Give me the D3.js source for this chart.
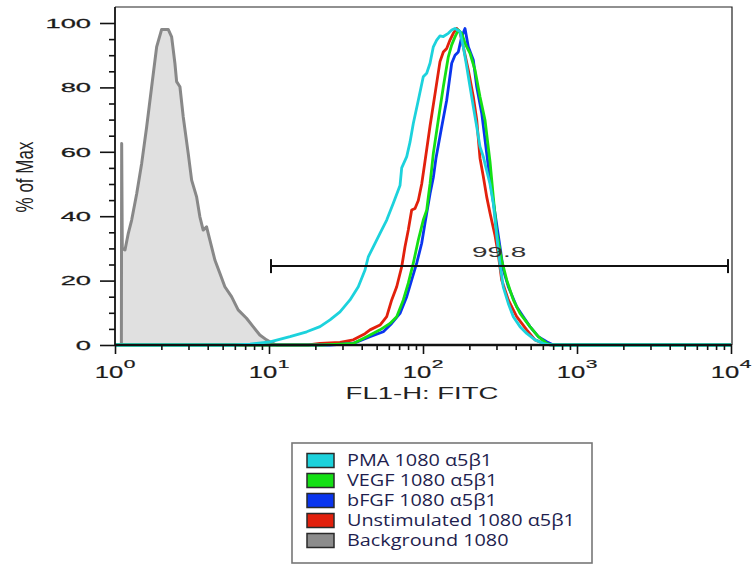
<!DOCTYPE html>
<html>
<head>
<meta charset="utf-8">
<script src="https://cdn.jsdelivr.net/npm/d3@7"></script>
<style>
  html, body { margin: 0; padding: 0; background: #fff; }
  svg { display: block; }
</style>
</head>
<body>
<svg id="chart" width="755" height="565"></svg>
<script>
// ---- Histogram data: [FL1-H fluorescence, % of Max] ----
const backgroundSeries = [
  [1.10, 0], [1.105, 62.6], [1.115, 30], [1.161, 29.5], [1.220, 34.7], [1.283, 38.8],
  [1.383, 47], [1.490, 56.4], [1.606, 67.8], [1.730, 80.2], [1.864, 92.6], [2.009, 98],
  [2.216, 98], [2.332, 95.7], [2.449, 87.5], [2.513, 81.8], [2.640, 80.2], [2.773, 70.9],
  [2.988, 59.5], [3.145, 51.2], [3.388, 46], [3.558, 39.8], [3.738, 35.7], [3.932, 36.7],
  [4.132, 32.6], [4.452, 26.4], [4.797, 22.3], [5.169, 18.1], [5.712, 15], [6.304, 10.9],
  [7.146, 8.3], [7.886, 5.7], [8.717, 3.1], [9.634, 1.6], [10.38, 0.7], [11.2, 0], [10000, 0]
];
const unstimulatedSeries = [
  [1, 0], [18, 0], [21.44, 0.5], [28.91, 0.8], [35.27, 1.6], [42.02, 3.5], [45.27, 4.7],
  [52.58, 6.2], [58.12, 8.8], [62.63, 14], [67.49, 18.1], [72.73, 24.3], [76.40, 30.5],
  [80.26, 35.7], [84.44, 41.9], [88.74, 42.4], [93.22, 44.9], [98.08, 50], [103.0, 57],
  [111.1, 68], [119.7, 78], [128.9, 88], [135.5, 91], [142.5, 92.1], [149.7, 94.7],
  [157.3, 96.8], [165.5, 98.3], [173.9, 97], [182.7, 92.6], [196.9, 85.4], [212.2, 77.1],
  [223.3, 69.9], [234.5, 58], [246.4, 52.3], [259.2, 46], [272.3, 41], [293.5, 34],
  [308.4, 28], [324.3, 20.2], [358.0, 14], [405.9, 8.8], [471.5, 4.7], [533.7, 1.6],
  [604.2, 0.5], [667.9, 0], [10000, 0]
];
const bfgfSeries = [
  [1, 0], [25, 0], [35.27, 0.5], [45.27, 2.6], [55.24, 4.1], [62.63, 6.7], [70.90, 9.8],
  [78.40, 15], [84.44, 20.2], [91.01, 25.4], [98.08, 31.6], [103.0, 37.8], [111.1, 47],
  [116.7, 52], [121.4, 58], [132.3, 67.8], [142.5, 76], [153.6, 87.5], [161.4, 90],
  [169.5, 91], [178.3, 95.7], [187.4, 98.3], [196.9, 92.6], [212.2, 88.5], [223.3, 80.2],
  [240.6, 72], [259.2, 59.5], [272.3, 51.2], [293.5, 40.9], [316.2, 30.5], [332.2, 23.3],
  [358.0, 18.1], [405.9, 11.9], [448.1, 8.8], [495.3, 5.7], [560.8, 2.6], [635.8, 1],
  [701.7, 0], [10000, 0]
];
const vegfSeries = [
  [1, 0], [22, 0], [28.91, 0.3], [35.27, 0.5], [43.10, 2.6], [52.58, 4.7], [61.05, 6.7],
  [67.49, 8.8], [74.50, 14], [80.26, 19.2], [86.50, 25.4], [93.22, 32.6], [100.4, 38.8],
  [105.7, 41.9], [108.3, 46], [111.1, 50], [116.7, 59.5], [125.7, 69.9], [135.5, 80.2],
  [146.0, 89.5], [153.6, 93.2], [161.4, 95.7], [169.5, 97.8], [178.3, 96.8], [187.4, 93.7],
  [202.0, 90.6], [217.6, 85.4], [234.5, 77.1], [252.7, 69.9], [272.3, 57], [286.1, 46],
  [301.0, 35], [324.3, 26.4], [349.5, 20.2], [385.8, 14], [426.6, 9.8], [495.3, 5.7],
  [560.8, 2.6], [635.8, 0.5], [684.9, 0], [10000, 0]
];
const pmaSeries = [
  [1, 0], [6, 0], [7.53, 0.3], [10.15, 1.0], [13.69, 2.6], [17.57, 4.1], [21.44, 5.7],
  [24.90, 7.8], [28.91, 10.3], [33.57, 14], [38.01, 18.1], [42.02, 23.3], [44.14, 27.4],
  [47.56, 30.5], [52.58, 34.7], [58.12, 38.8], [64.14, 44], [70.90, 49.5], [72.73, 55],
  [78.40, 58.5], [82.35, 63], [86.50, 68.8], [93.22, 76], [100.4, 83.3], [105.7, 84.4],
  [111.1, 87.5], [116.7, 92.6], [122.7, 94.7], [128.9, 96], [135.5, 95.8], [146.0, 96.8],
  [153.6, 97.8], [161.4, 98.3], [173.9, 97.3], [182.7, 92.6], [192.2, 86.5], [202.0, 80.2],
  [212.2, 74], [223.3, 67.8], [234.5, 61.6], [246.4, 58.5], [256.6, 55], [272.3, 50],
  [286.1, 44], [301.0, 34], [316.2, 25], [332.2, 18], [358.0, 12.9], [385.8, 8.8],
  [426.6, 5.7], [471.5, 3.6], [533.7, 1.6], [604.2, 0.5], [667.9, 0], [10000, 0]
];

// ---- Legend entries ----
const legendLabels = ["PMA 1080 α5β1", "VEGF 1080 α5β1", "bFGF 1080 α5β1", "Unstimulated 1080 α5β1", "Background 1080"];
const legendColors = ["#1cd2dc", "#14e014", "#0a35ee", "#e2200c", "#8c8c8c"];

// ---- Axes ticks ----
const yTicks = [0, 20, 40, 60, 80, 100];
const yMinorTicks = d3.range(0, 101, 5).filter(v => v % 20 !== 0);
const xDecadeExponents = [0, 1, 2, 3, 4];
const xAxisTitle = "FL1-H: FITC";
const yAxisTitle = "% of Max";

// ---- Gate ----
const gateBounds = [10.3, 9560];
const gateLevel = 24.5;
const gateLabel = "99.8";
const gateLabelAt = 312;

// ---- Layout ----
const plot = { left: 115, right: 731, top: 7, bottom: 345 };
const svg = d3.select("#chart");

const x = d3.scaleLog().domain([1, 10000]).range([plot.left, plot.right]);
const y = d3.scaleLinear().domain([0, 100]).range([plot.bottom, 23]);

const fontAxis = "'Liberation Sans', Arial, sans-serif";

// Frame (top and right edges)
svg.append("path")
  .attr("d", `M${plot.left},${plot.top}H${plot.right + 1}V${plot.bottom}`)
  .attr("fill", "none").attr("stroke", "#222").attr("stroke-width", 1.2);

// Histogram layers
const line = d3.line().x(d => x(d[0])).y(d => y(d[1]));
const area = d3.area().x(d => x(d[0])).y0(y(0)).y1(d => y(d[1]));

const curves = svg.append("g");
curves.append("path").datum(backgroundSeries)
  .attr("d", area).attr("fill", "#e0e0e0");
curves.append("path").datum(backgroundSeries)
  .attr("d", line).attr("fill", "none").attr("stroke", "#888")
  .attr("stroke-width", 3).attr("stroke-linejoin", "round");

const colouredSeries = [
  { data: unstimulatedSeries, color: legendColors[3] },
  { data: bfgfSeries, color: legendColors[2] },
  { data: vegfSeries, color: legendColors[1] },
  { data: pmaSeries, color: legendColors[0] }
];
colouredSeries.forEach(s => {
  curves.append("path").datum(s.data)
    .attr("d", line).attr("fill", "none").attr("stroke", s.color)
    .attr("stroke-width", 2.8).attr("stroke-linejoin", "round");
});

// Y axis ticks
const yMajorG = svg.append("g").attr("transform", `translate(${plot.left},0)`)
  .call(d3.axisLeft(y).tickValues(yTicks).tickSize(15).tickSizeOuter(0).tickFormat(""));
const yMinorG = svg.append("g").attr("transform", `translate(${plot.left},0)`)
  .call(d3.axisLeft(y).tickValues(yMinorTicks).tickSize(6).tickSizeOuter(0).tickFormat(""));

// X axis ticks (decades + 2..9 minors)
const xMajorVals = xDecadeExponents.map(e => Math.pow(10, e));
const xMinorVals = [];
for (let e = 0; e < 4; e++) for (let k = 2; k <= 9; k++) xMinorVals.push(k * Math.pow(10, e));
const xMajorG = svg.append("g").attr("transform", `translate(0,${plot.bottom})`)
  .call(d3.axisBottom(x).tickValues(xMajorVals).tickSize(9).tickSizeOuter(0).tickFormat(""));
const xMinorG = svg.append("g").attr("transform", `translate(0,${plot.bottom})`)
  .call(d3.axisBottom(x).tickValues(xMinorVals).tickSize(5).tickSizeOuter(0).tickFormat(""));

[yMajorG, yMinorG, xMajorG, xMinorG].forEach(g => {
  g.select(".domain").remove();
  g.selectAll(".tick line").attr("stroke", "#111").attr("stroke-width", 1.6);
});

// Axis lines
svg.append("line").attr("x1", plot.left).attr("x2", plot.left)
  .attr("y1", plot.top).attr("y2", plot.bottom + 1)
  .attr("stroke", "#111").attr("stroke-width", 1.8);
svg.append("line").attr("x1", plot.left).attr("x2", plot.right + 1)
  .attr("y1", plot.bottom).attr("y2", plot.bottom)
  .attr("stroke", "#111").attr("stroke-width", 1.8);

// Y tick labels (wide face)
svg.append("g").selectAll("text").data(yTicks).join("text")
  .attr("transform", d => `translate(91,${y(d) + 4.7}) scale(2.1,1)`)
  .attr("text-anchor", "end")
  .attr("font-family", fontAxis).attr("font-size", 13).attr("fill", "#1a1a1a")
  .attr("stroke", "#1a1a1a").attr("stroke-width", 0.25)
  .text(d => d);

// X tick labels: 10 with superscript exponent
const xLab = svg.append("g");
xDecadeExponents.forEach(e => {
  const tx = x(Math.pow(10, e));
  const base = xLab.append("text")
    .attr("font-family", fontAxis).attr("font-size", 16).attr("fill", "#1a1a1a")
    .attr("stroke", "#1a1a1a").attr("stroke-width", 0.2).text("10");
  const sup = xLab.append("text")
    .attr("font-family", fontAxis).attr("font-size", 10.5).attr("fill", "#1a1a1a")
    .attr("stroke", "#1a1a1a").attr("stroke-width", 0.2).text(String(e));
  const bw = base.node().getComputedTextLength() * 1.6;
  const sw = sup.node().getComputedTextLength() * 2.0;
  const left = tx - (bw + sw + 0.5) / 2;
  base.attr("transform", `translate(${left},378) scale(1.6,1)`);
  sup.attr("transform", `translate(${left + bw + 0.5},368) scale(2,1)`);
});

// Axis titles
svg.append("text")
  .attr("transform", `translate(422,399) scale(1.72,1)`)
  .attr("text-anchor", "middle")
  .attr("font-family", fontAxis).attr("font-size", 16).attr("fill", "#222")
  .text(xAxisTitle);
svg.append("text")
  .attr("transform", "translate(33,177) scale(1.45,1) rotate(-90)")
  .attr("text-anchor", "middle")
  .attr("font-family", fontAxis).attr("font-size", 17).attr("fill", "#222")
  .text(yAxisTitle);

// Gate marker
const gy = y(gateLevel), gx0 = x(gateBounds[0]), gx1 = x(gateBounds[1]);
const gate = svg.append("g").attr("stroke", "#111").attr("stroke-width", 2);
gate.append("line").attr("x1", gx0).attr("x2", gx1).attr("y1", gy).attr("y2", gy);
gate.append("line").attr("x1", gx0).attr("x2", gx0).attr("y1", gy - 7).attr("y2", gy + 7);
gate.append("line").attr("x1", gx1).attr("x2", gx1).attr("y1", gy - 7).attr("y2", gy + 7);
svg.append("text")
  .attr("transform", `translate(${x(gateLabelAt)},${gy - 9}) scale(1.8,1)`)
  .attr("text-anchor", "middle")
  .attr("font-family", fontAxis).attr("font-size", 15.5).attr("fill", "#333")
  .text(gateLabel);

// Legend
const legend = svg.append("g");
legend.append("rect")
  .attr("x", 292).attr("y", 443).attr("width", 300).attr("height", 120)
  .attr("fill", "#fff").attr("stroke", "#777").attr("stroke-width", 1.6);
const rows = legend.selectAll("g.row").data(legendLabels).join("g")
  .attr("class", "row")
  .attr("transform", (d, i) => `translate(0,${460.5 + i * 20})`);
rows.append("rect")
  .attr("x", 307).attr("y", -7).attr("width", 27).attr("height", 14)
  .attr("fill", (d, i) => legendColors[i]).attr("stroke", "#2a2a2a").attr("stroke-width", 1.5);
const labels = rows.append("text")
  .attr("font-family", "'Open Sans', 'Noto Sans', sans-serif").attr("font-size", 15.5)
  .attr("fill", "#1e1e4e")
  .text(d => d);
const longest = d3.max(labels.nodes(), n => n.getComputedTextLength());
const k = 228 / longest;
labels.attr("transform", `translate(347,5.5) scale(${k},1)`);
</script>
</body>
</html>
